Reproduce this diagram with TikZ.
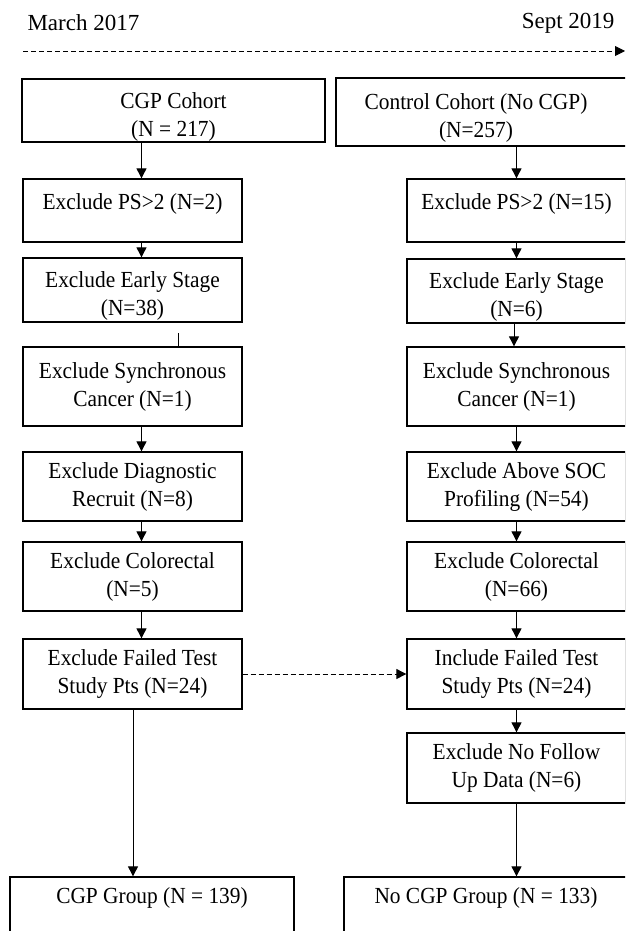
\documentclass[tikz,border=0pt]{standalone}
\usepackage{fontspec}
\setmainfont{Liberation Serif}[FakeStretch=0.93]
\newfontfamily\datefont{Liberation Serif}
\usetikzlibrary{arrows.meta}

\tikzset{
  stepbox/.style={draw, line width=1.3pt, align=center, inner sep=0pt, minimum width=219pt},
  oneline/.style={text height=15pt, text depth=17pt},
  boxtext/.style={align=center, inner sep=0pt},
  flow/.style={line width=0.9pt, -{Triangle[length=10pt,width=10pt]}},
  later/.style={flow, dash pattern=on 5pt off 3pt},
}

\begin{document}
\begin{tikzpicture}[x=1pt, y=-1pt, font=\fontsize{23}{28}\selectfont]
  \useasboundingbox (0,0) rectangle (625,931);
  \clip (0,0) rectangle (625,931);

  % Time line
  \node[anchor=west, font=\datefont\fontsize{23}{28}\selectfont] (start) at (24,23) {March 2017};
  \node[anchor=east, font=\datefont\fontsize{23}{28}\selectfont] (stop) at (618,23) {Sept 2019};
  \coordinate (tfrom) at (23,51);
  \coordinate (tto) at (625,51);
  \draw[later] (tfrom) -- (tto);

  % CGP cohort
  \node[stepbox, minimum width=303pt, minimum height=63pt] (cgp) at (173.5,110.5) {};
  \node[boxtext] (cgptext) at ([yshift=-6pt]cgp.center) {CGP Cohort\\(N = 217)};
  \node[stepbox, oneline, minimum height=63pt] (ps1) at (132.5,210.5) {Exclude PS>2 (N=2)};
  \node[stepbox, minimum height=64pt] (early1) at (132.5,290) {};
  \node[boxtext] (early1text) at ([yshift=-6pt]early1.center) {Exclude Early Stage\\(N=38)};
  \node[stepbox, minimum height=79pt] (sync1) at (132.5,386.5) {Exclude Synchronous\\Cancer (N=1)};
  \node[stepbox, minimum height=69pt] (diag1) at (132.5,486.5) {Exclude Diagnostic\\Recruit (N=8)};
  \node[stepbox, minimum height=69pt] (colo1) at (132.5,576.5) {Exclude Colorectal\\(N=5)};
  \node[stepbox, minimum height=70pt] (fail1) at (132.5,674) {Exclude Failed Test\\Study Pts (N=24)};
  \node[stepbox, minimum width=284pt, minimum height=70pt, text height=15pt, text depth=33pt] (grp1) at (152,912) {CGP Group (N = 139)};

  % Control cohort
  \node[stepbox, minimum width=294pt, minimum height=68pt] (ctrl) at (483,112) {};
  \node[boxtext] (ctrltext) at ([xshift=-7pt,yshift=-6pt]ctrl.center) {Control Cohort (No CGP)\\(N=257)};
  \node[stepbox, oneline, minimum height=63pt] (ps2) at (516.5,210.5) {Exclude PS>2 (N=15)};
  \node[stepbox, minimum height=64pt] (early2) at (516.5,291) {};
  \node[boxtext] (early2text) at ([yshift=-6pt]early2.center) {Exclude Early Stage\\(N=6)};
  \node[stepbox, minimum height=79pt] (sync2) at (516.5,386.5) {Exclude Synchronous\\Cancer (N=1)};
  \node[stepbox, minimum height=69pt] (soc2) at (516.5,486.5) {Exclude Above SOC\\Profiling (N=54)};
  \node[stepbox, minimum height=69pt] (colo2) at (516.5,576.5) {Exclude Colorectal\\(N=66)};
  \node[stepbox, minimum height=70pt] (incl2) at (516.5,674) {Include Failed Test\\Study Pts (N=24)};
  \node[stepbox, minimum height=70pt] (fup2) at (516.5,768) {Exclude No Follow\\Up Data (N=6)};
  \node[stepbox, minimum width=284pt, minimum height=70pt, text height=15pt, text depth=33pt] (grp2) at (486,912) {No CGP Group (N = 133)};

  % arrows, left
  \coordinate (lx) at (141.5,0);
  \draw[flow] (cgp.south -| lx) -- (ps1.north -| lx);
  \draw[flow] (ps1.south -| lx) -- (early1.north -| lx);
  \coordinate (stub) at (178.5,333);
  \draw[line width=0.9pt] (stub) -- (stub |- sync1.north);
  \draw[flow] (sync1.south -| lx) -- (diag1.north -| lx);
  \draw[flow] (diag1.south -| lx) -- (colo1.north -| lx);
  \draw[flow] (colo1.south -| lx) -- (fail1.north -| lx);
  \draw[flow] (fail1.south -| 133,0) -- (grp1.north -| 133,0);

  % arrows, right
  \coordinate (rx) at (516.5,0);
  \draw[flow] (ctrl.south -| rx) -- (ps2.north -| rx);
  \draw[flow] (ps2.south -| rx) -- (early2.north -| rx);
  \draw[flow] (early2.south -| 514,0) -- (sync2.north -| 514,0);
  \draw[flow] (sync2.south -| rx) -- (soc2.north -| rx);
  \draw[flow] (soc2.south -| rx) -- (colo2.north -| rx);
  \draw[flow] (colo2.south -| rx) -- (incl2.north -| rx);
  \draw[flow] (incl2.south -| rx) -- (fup2.north -| rx);
  \draw[flow] (fup2.south -| rx) -- (grp2.north -| rx);

  % failed tests go over
  \draw[later] (fail1.east) -- (incl2.west);
\end{tikzpicture}
\end{document}
